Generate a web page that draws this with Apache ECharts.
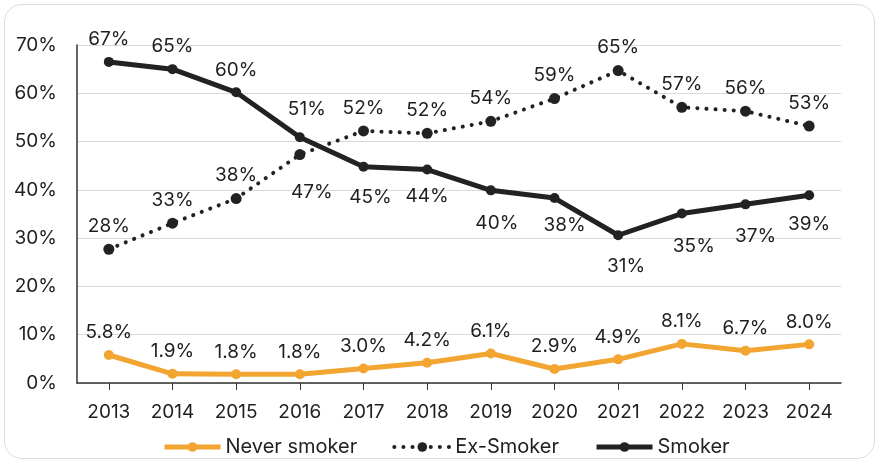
<!DOCTYPE html>
<html><head><meta charset="utf-8">
<script src="https://cdn.jsdelivr.net/npm/echarts@6/dist/echarts.min.js"></script>
<style>
html,body{margin:0;padding:0;background:#fff;}
#card{position:absolute;left:4px;top:4px;width:871px;height:455px;border:1.5px solid #dcdcdc;border-radius:18px;box-sizing:border-box;}
#c{position:absolute;left:0;top:0;width:881px;height:465px;}
</style></head>
<body><div id="card"></div><div id="c"></div>
<script>
const years = ['2013','2014','2015','2016','2017','2018','2019','2020','2021','2022','2023','2024'];
const neverSmoker = [5.8, 1.9, 1.8, 1.8, 3.0, 4.2, 6.1, 2.9, 4.9, 8.1, 6.7, 8.0];
const exSmoker = [27.7, 33.1, 38.2, 47.3, 52.2, 51.7, 54.2, 58.9, 64.7, 57.1, 56.3, 53.2];
const smoker = [66.5, 65.0, 60.2, 50.9, 44.8, 44.2, 39.9, 38.3, 30.6, 35.1, 37.0, 38.9];
const neverLabels = ['5.8%','1.9%','1.8%','1.8%','3.0%','4.2%','6.1%','2.9%','4.9%','8.1%','6.7%','8.0%'];
const exLabels = ['28%','33%','38%','47%','52%','52%','54%','59%','65%','57%','56%','53%'];
const smokerLabels = ['67%','65%','60%','51%','45%','44%','40%','38%','31%','35%','37%','39%'];

const FONT = 'Inter';
const TXT = '#1f1f1f';
const ORANGE = '#F2A530';
const DARK = '#222222';

// label layout (style only): which points get their label below, distance and horizontal nudge
function items(vals, labels, below, dist, dx){
  return vals.map((v,i)=>{
    const pos = below.includes(i) ? 'bottom' : 'top';
    return {value:v, label:{position:pos,
      distance:(dist[i]!==undefined?dist[i]:8),
      offset:[dx[i]||0, 0], formatter:labels[i]}};
  });
}
const labelBase = {show:true, fontFamily:FONT, fontSize:19, color:TXT};

const chart = echarts.init(document.getElementById('c'));
chart.setOption({
  animation:false,
  textStyle:{fontFamily:FONT},
  grid:{left:77, right:40, top:45, bottom:82},
  legend:{
    bottom:3, left:157, itemWidth:56, itemHeight:12, itemGap:35,
    textStyle:{fontFamily:FONT, fontSize:20, color:TXT},
    data:[
      {name:'Never smoker', lineStyle:{width:5}},
      {name:'Ex-Smoker', lineStyle:{width:4, type:[0.1,9], cap:'round'}},
      {name:'Smoker', lineStyle:{width:5}}
    ]
  },
  xAxis:{
    type:'category', data:years, boundaryGap:true,
    axisLine:{lineStyle:{color:'#333', width:1.5}},
    axisTick:{show:true, alignWithLabel:true, length:7, lineStyle:{color:'#333'}},
    axisLabel:{fontFamily:FONT, fontSize:19, color:TXT, margin:20}
  },
  yAxis:{
    type:'value', min:0, max:70, interval:10,
    axisLine:{show:true, lineStyle:{color:'#333', width:1.5}},
    axisTick:{show:false},
    splitLine:{lineStyle:{color:'#d9d9d9', width:1.2}},
    axisLabel:{fontFamily:FONT, fontSize:19, color:TXT, margin:20, formatter:'{value}%'}
  },
  series:[
    {name:'Never smoker', type:'line', data:items(neverSmoker, neverLabels, [], {}, {}),
     symbol:'circle', symbolSize:10, lineStyle:{color:ORANGE, width:5}, itemStyle:{color:ORANGE},
     label:labelBase, z:3},
    {name:'Ex-Smoker', type:'line', data:items(exSmoker, exLabels, [3], {3:23}, {3:12}),
     symbol:'circle', symbolSize:11, lineStyle:{color:DARK, width:4, type:[0.1,9], cap:'round'}, itemStyle:{color:DARK},
     label:labelBase, z:2},
    {name:'Smoker', type:'line',
     data:items(smoker, smokerLabels, [4,5,6,7,8,9,10,11],
       {3:13,4:16,5:12,6:18,7:13,8:17,9:18,10:17,11:15},
       {3:7,4:7,6:6,7:10,8:8,9:12,10:10}),
     symbol:'circle', symbolSize:10, lineStyle:{color:DARK, width:5}, itemStyle:{color:DARK},
     label:labelBase, z:4}
  ]
});
</script></body></html>
